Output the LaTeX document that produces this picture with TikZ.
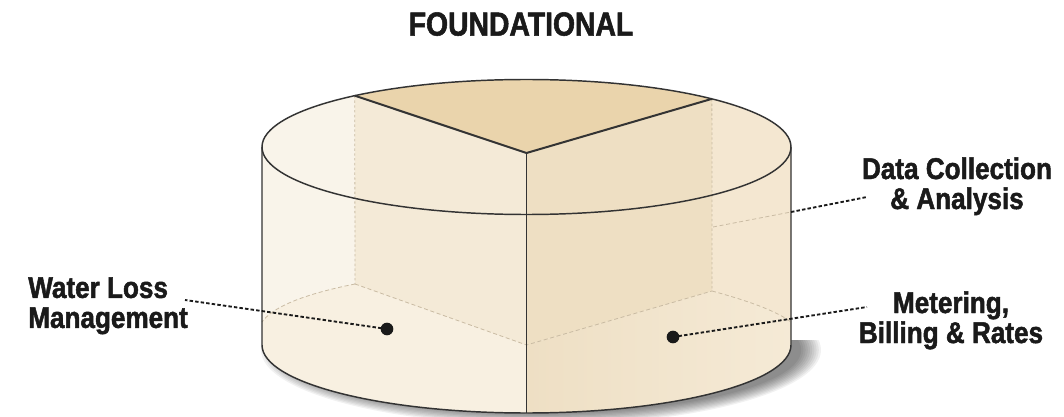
\documentclass[tikz,border=0pt]{standalone}
\usepackage{fontspec}
\newfontfamily\labfont{Liberation Sans}[FakeStretch=0.87,BoldFeatures={FakeBold=1.6}]
\newfontfamily\titfont{Liberation Sans}[FakeStretch=0.85,BoldFeatures={FakeBold=1.6}]
\usetikzlibrary{calc}
\definecolor{baselt}{HTML}{F9F4EA}
\definecolor{innerL}{HTML}{F4EAD7}
\definecolor{innerR}{HTML}{EEDFC3}
\definecolor{outerR}{HTML}{F4E7D1}
\definecolor{floorL}{HTML}{F8F0E1}
\definecolor{floorRa}{HTML}{EEDFC4}
\definecolor{floorRb}{HTML}{F5EAD6}
\definecolor{wedge}{HTML}{EAD4AC}
\definecolor{outline}{HTML}{333333}
\definecolor{hidden}{HTML}{C9BBA3}
\definecolor{ink}{HTML}{1A1A1A}
\begin{document}
\begin{tikzpicture}[x=0.75pt,y=-0.75pt,
  outl/.style={draw=outline,line width=1.1pt},
  wedgeedge/.style={draw=outline,line width=1.5pt,line join=round},
  hiddenline/.style={draw=hidden,line width=0.6pt,dash pattern=on 3pt off 2pt},
  hiddendot/.style={draw=hidden,line width=0.6pt,dash pattern=on 1.8pt off 1.8pt},
  leader/.style={draw=ink,line width=1.4pt,dash pattern=on 2.6pt off 1.6pt},
  dot/.style={circle,fill=ink,inner sep=0pt,minimum size=9.5pt},
  lab/.style={inner sep=0pt,text=ink,font=\labfont\bfseries\fontsize{22.5}{22.5}\selectfont},
  titl/.style={inner sep=0pt,text=ink,font=\titfont\bfseries\fontsize{25}{26}\selectfont}]
\useasboundingbox (0,0) rectangle (1064,417);
\fill[white] (0,0) rectangle (1064,417);

% key points
\coordinate (C) at (526.5,147);
\coordinate (A) at (526.5,153);
\coordinate (TL) at ($(C)+({264.5*cos(-130.5)},{67.5*sin(-130.5)})$);
\coordinate (TR) at ($(C)+({264.5*cos(-45.5)},{67.5*sin(-45.5)})$);
\coordinate (BL) at (355,284);
\coordinate (BR) at (712,291);
\coordinate (BA) at (526.5,345);
\coordinate (LE) at (262,322);
\coordinate (RE) at (791,322);

% shadow
\begin{scope}
  \clip (240,340) rectangle (1064,417);
  \foreach \i in {1,...,10}{
    \fill[black,opacity=0.055] (541,350) ellipse[x radius={258+2.2*\i},y radius={62+1.3*\i}];
  }
\end{scope}

% body
\fill[baselt] (262,147) -- (262,345) arc[start angle=180,end angle=0,x radius=264.5,y radius=68]
  -- (791,147) arc[start angle=0,end angle=-180,x radius=264.5,y radius=67.5] -- cycle;
% right outer part
\fill[outerR] (TR) arc[start angle=-45.5,end angle=0,x radius=264.5,y radius=67.5]
  -- (RE) .. controls (775,310) and (745,300) .. (BR) -- cycle;
% front-right lower
\shade[left color=floorRa,right color=floorRb] (BA) -- (BR) .. controls (745,300) and (775,310) .. (RE)
  -- (791,345) arc[start angle=0,end angle=90,x radius=264.5,y radius=68] -- cycle;
% front-left lower
\fill[floorL] (BA) -- (BL) .. controls (300,295) and (272,308) .. (LE)
  -- (262,345) arc[start angle=180,end angle=90,x radius=264.5,y radius=68] -- cycle;
% inner faces
\fill[innerL] (TL) -- (A) -- (BA) -- (BL) -- cycle;
\fill[innerR] (A) -- (TR) -- (BR) -- (BA) -- cycle;
% top wedge
\fill[wedge] (TL) -- (A) -- (TR) arc[start angle=-45.5,end angle=-130.5,x radius=264.5,y radius=67.5] -- cycle;

% hidden lines
\draw[hiddendot] (TL) -- (BL);
\draw[hiddendot] (TR) -- (BR);
\draw[hiddenline] (BL) -- (BA) -- (BR);
\draw[hiddenline] (BL) .. controls (300,295) and (272,308) .. (LE);
\draw[hiddenline] (BR) .. controls (745,300) and (775,310) .. (RE);
\coordinate (dIn) at (713,227);
\coordinate (dEdge) at (791,212);
\draw[hiddenline] (dIn) -- (dEdge);

% outlines
\draw[outl] (C) ellipse[x radius=264.5,y radius=67.5];
\draw[outl] (262,147) -- (262,345) arc[start angle=180,end angle=0,x radius=264.5,y radius=68] -- (791,147);
\draw[outl] (A) -- (526.5,413);
\draw[wedgeedge] (TL) -- (A) -- (TR);

% dots
\node[dot] (dW) at (387,329) {};
\node[dot] (dM) at (673,337) {};

% labels
\node[titl,anchor=north] (title) at (521,12) {FOUNDATIONAL};
\node[lab,anchor=north west,align=left] (lW) at (28,277) {Water Loss\\Management};
\node[lab,anchor=north,align=center] (lD) at (957,157) {Data Collection\\\&~Analysis};
\node[lab,anchor=north,align=center] (lM) at (951,291) {Metering,\\Billing \&~Rates};

% leaders
\coordinate (wE) at (185,300);
\coordinate (dE) at (867,197);
\coordinate (mE) at (867,307);
\draw[leader] (dW.center) -- (wE);
\draw[leader] (dM.center) -- (mE);
\draw[leader] (dEdge) -- (dE);
\end{tikzpicture}
\end{document}
